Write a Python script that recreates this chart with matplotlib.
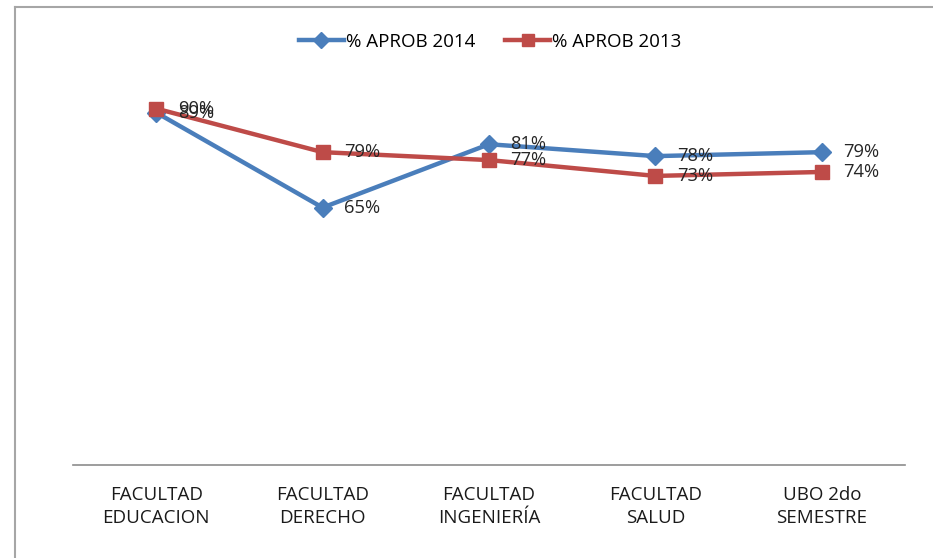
import matplotlib
matplotlib.use("Agg")
import matplotlib.pyplot as plt
from matplotlib.lines import Line2D

categories = ["FACULTAD\nEDUCACION", "FACULTAD\nDERECHO", "FACULTAD\nINGENIERÍA",
              "FACULTAD\nSALUD", "UBO 2do\nSEMESTRE"]
aprob_2014 = [0.89, 0.65, 0.81, 0.78, 0.79]
aprob_2013 = [0.90, 0.79, 0.77, 0.73, 0.74]
series_names = ["% APROB 2014", "% APROB 2013"]

blue = "#4A7EBB"
red = "#BE4B48"
font = ["Open Sans", "DejaVu Sans"]

fig = plt.figure(figsize=(9.33, 5.58), dpi=100)
W, H = 933, 558
ax = fig.add_axes([73 / W, (H - 465) / H, (905 - 73) / W, (465 - 69) / H])

x = list(range(len(categories)))
ax.plot(x, aprob_2014, color=blue, lw=3.2, marker="D", ms=9, mfc=blue, mec=blue, zorder=3)
ax.plot(x, aprob_2013, color=red, lw=3.2, marker="s", ms=10, mfc=red, mec=red, zorder=4)

for vals in (aprob_2014, aprob_2013):
    for xi, v in zip(x, vals):
        ax.annotate(f"{round(v*100)}%", (xi, v), xytext=(15.5, 0), textcoords="offset points",
                    ha="left", va="center", fontsize=13.2, color="#262626", family=font, zorder=5)

ax.set_xlim(-0.5, len(categories) - 0.5)
ax.set_ylim(0, 1)
ax.set_xticks(x)
ax.set_xticklabels(categories, fontsize=13.5, family=font, color="#1a1a1a", linespacing=1.4)
ax.tick_params(axis="x", length=0, pad=15)
ax.set_yticks([])
for s in ["top", "right", "left"]:
    ax.spines[s].set_visible(False)
ax.spines["bottom"].set_color("#8c8c8c")
ax.spines["bottom"].set_linewidth(1.2)

handles = [Line2D([], [], color=blue, lw=3.2, marker="D", ms=8),
           Line2D([], [], color=red, lw=3.2, marker="s", ms=9)]
fig.legend(handles, series_names, loc="center", bbox_to_anchor=(490 / W, 1 - 42 / H),
           ncol=2, frameon=False, prop={"family": font, "size": 13.5},
           handlelength=2.4, handletextpad=0.1, columnspacing=1.6)

# chart frame (top and left edges visible)
fig.add_artist(Line2D([15 / W, 1.0], [1 - 7 / H, 1 - 7 / H], color="#a6a6a6", lw=1.5,
                      transform=fig.transFigure))
fig.add_artist(Line2D([15 / W, 15 / W], [0, 1 - 7 / H], color="#a6a6a6", lw=1.5,
                      transform=fig.transFigure))

fig.savefig("out.png", dpi=100)
